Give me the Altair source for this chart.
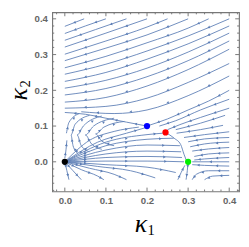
import math
import altair as alt
import pandas as pd

# Streamlines: lists of (kappa1, kappa2) points
upper_lines = [
    [(0.0, 0.379), (0.047, 0.4)],
    [(0.0, 0.359), (0.05, 0.38), (0.1, 0.4)],
    [(0.0, 0.340), (0.075, 0.37), (0.15, 0.4)],
    [(0.0, 0.321), (0.1, 0.36), (0.2, 0.4)],
    [(0.0, 0.301), (0.1, 0.338), (0.2, 0.377), (0.25, 0.4)],
    [(0.0, 0.283), (0.1, 0.318), (0.2, 0.355), (0.3, 0.4)],
    [(0.0, 0.263), (0.1, 0.295), (0.2, 0.333), (0.3, 0.374), (0.35, 0.4)],
    [(0.0, 0.245), (0.1, 0.273), (0.2, 0.31), (0.3, 0.352), (0.4, 0.4)],
    [(0.0, 0.225), (0.1, 0.25), (0.2, 0.287), (0.3, 0.33), (0.4, 0.38)],
    [(0.0, 0.206), (0.1, 0.228), (0.2, 0.262), (0.3, 0.307), (0.4, 0.36)],
    [(0.0, 0.187), (0.1, 0.205), (0.2, 0.238), (0.3, 0.283), (0.4, 0.338)],
    [(0.0, 0.167), (0.1, 0.18), (0.2, 0.212), (0.3, 0.258), (0.4, 0.315)],
    [(0.0, 0.150), (0.1, 0.155), (0.2, 0.178), (0.3, 0.222), (0.4, 0.275)],
    [(0.04, 0.14), (0.12, 0.135), (0.2, 0.145), (0.3, 0.185), (0.4, 0.24)],
    [(0.0, 0.138), (0.05, 0.133), (0.1, 0.122), (0.15, 0.111), (0.195, 0.101)],
    [(0.205, 0.102), (0.25, 0.12), (0.3, 0.145), (0.35, 0.17), (0.4, 0.2)],
]
curve_lines = [
    [(0.245, 0.082), (0.266, 0.066), (0.282, 0.048), (0.29, 0.021), (0.296, 0.003)],
]
right_lines = [
    [(0.4, 0.175), (0.33, 0.145), (0.27, 0.115), (0.23, 0.1)],
    [(0.4, 0.15), (0.33, 0.124), (0.28, 0.104), (0.25, 0.09)],
    [(0.39, 0.13), (0.33, 0.108), (0.27, 0.09)],
    [(0.385, 0.102), (0.33, 0.09), (0.272, 0.08)],
    [(0.4, 0.084), (0.34, 0.076), (0.29, 0.068)],
    [(0.4, 0.068), (0.34, 0.064), (0.3, 0.056)],
    [(0.4, 0.055), (0.34, 0.05), (0.305, 0.042)],
    [(0.4, 0.04), (0.35, 0.036), (0.31, 0.03)],
    [(0.4, 0.025), (0.35, 0.022), (0.315, 0.015)],
    [(0.4, 0.012), (0.34, 0.008), (0.315, 0.005)],
    [(0.4, 0.0), (0.31, 0.0)],
    [(0.4, -0.012), (0.34, -0.01), (0.31, -0.008)],
    [(0.4, -0.025), (0.35, -0.025), (0.32, -0.035), (0.31, -0.05)],
    [(0.4, -0.038), (0.36, -0.04), (0.34, -0.05)],
    [(0.3, 0.0), (0.298, -0.025), (0.295, -0.05)],
    [(0.275, -0.05), (0.283, -0.03), (0.292, -0.01)],
]
origin_lines = [
    [(0.0, 0.0), (0.1, 0.002), (0.2, 0.002), (0.29, 0.0)],
    [(0.0, 0.0), (0.1, 0.012), (0.2, 0.015), (0.285, 0.012)],
    [(0.0, 0.0), (0.1, 0.022), (0.2, 0.03), (0.283, 0.028)],
    [(0.0, 0.0), (0.1, 0.033), (0.2, 0.047), (0.28, 0.045)],
    [(0.0, 0.0), (0.1, 0.045), (0.2, 0.063), (0.265, 0.066)],
    [(0.0, 0.0), (0.1, 0.055), (0.2, 0.076), (0.238, 0.08)],
    [(0.0, 0.0), (0.08, 0.055), (0.15, 0.08), (0.195, 0.095)],
    [(0.0, 0.0), (0.06, 0.06), (0.12, 0.085), (0.18, 0.097)],
    [(0.0, 0.0), (0.1, -0.008), (0.2, -0.015), (0.27, -0.03)],
    [(0.0, 0.0), (0.08, -0.013), (0.16, -0.025), (0.22, -0.045)],
    [(0.0, 0.0), (0.06, -0.018), (0.12, -0.035), (0.15, -0.05)],
    [(0.0, 0.0), (0.04, -0.022), (0.08, -0.04), (0.095, -0.05)],
    [(0.0, 0.0), (0.02, -0.025), (0.04, -0.05)],
    [(0.0, 0.0), (0.005, -0.025), (0.01, -0.05)],
    [(0.0, 0.01), (0.003, 0.035), (0.005, 0.06)],
    [(0.004, 0.08), (0.01, 0.11), (0.035, 0.135)],
    [(0.03, 0.025), (0.02, 0.045), (0.015, 0.075), (0.025, 0.105), (0.06, 0.13)],
    [(0.06, 0.028), (0.04, 0.045), (0.03, 0.075), (0.045, 0.1), (0.09, 0.128)],
    [(0.09, 0.035), (0.065, 0.05), (0.05, 0.075), (0.07, 0.1), (0.12, 0.122)],
    [(0.12, 0.045), (0.09, 0.058), (0.075, 0.078), (0.095, 0.097), (0.145, 0.113)],
]

fp_x = [0.0, 0.2, 0.245, 0.3]
fp_y = [0.0, 0.1, 0.082, 0.0]
fp_color = ["#000000", "#0000ff", "#ff0000", "#00ee00"]

major_ticks = [0.0, 0.1, 0.2, 0.3, 0.4]
minor_x = [-0.02, 0.02, 0.04, 0.06, 0.08, 0.12, 0.14, 0.16, 0.18, 0.22, 0.24, 0.26, 0.28, 0.32, 0.34, 0.36, 0.38, 0.42]
minor_y = [-0.08, -0.06, -0.04, -0.02, 0.02, 0.04, 0.06, 0.08, 0.12, 0.14, 0.16, 0.18, 0.22, 0.24, 0.26, 0.28, 0.32, 0.34, 0.36, 0.38]

XDOM = [-0.0305, 0.424]
YDOM = [-0.083, 0.418]
W, H = 194, 186
PX = W / (XDOM[1] - XDOM[0])
PY = H / (YDOM[1] - YDOM[0])

# flow direction: upper lines are listed left->right but flow right->left
flows = [(upper_lines, True), (curve_lines, None), (right_lines, False), (origin_lines, False)]

rows, arrows = [], []
lid = 0
for group, rev in flows:
    for line in group:
        for i, (x, y) in enumerate(line):
            rows.append({"line": lid, "o": i, "x": x, "y": y})
        lid += 1
        if rev is None:
            continue
        pts = line[::-1] if rev else line
        for (x0, y0), (x1, y1) in zip(pts[:-1], pts[1:]):
            ang = math.degrees(math.atan2(-(y1 - y0) * PY, (x1 - x0) * PX)) % 360
            arrows.append({"x": (x0 + x1) / 2, "y": (y0 + y1) / 2, "a": ang})

df = pd.DataFrame(rows)
ar = pd.DataFrame(arrows)
fp = pd.DataFrame({"x": fp_x, "y": fp_y, "c": fp_color})

xs = alt.Scale(domain=XDOM, nice=False, zero=False)
ys = alt.Scale(domain=YDOM, nice=False, zero=False)

lab = dict(labelFont="Liberation Sans", labelFontSize=10, labelColor="#666666",
           labelFontWeight="bold", ticks=False, domain=False, grid=False, title=None)

line_col = "#5b7db5"
streams = alt.Chart(df).mark_line(color=line_col, strokeWidth=0.9, interpolate="monotone").encode(
    x=alt.X("x:Q", scale=xs, axis=alt.Axis(values=major_ticks, format=".1f", labelPadding=4, **lab)),
    y=alt.Y("y:Q", scale=ys, axis=alt.Axis(values=major_ticks, format=".1f", labelPadding=5, **lab)),
    detail="line:N",
    order="o:Q",
)

heads = alt.Chart(ar).mark_point(shape="triangle-right", filled=True, size=9, color=line_col, opacity=1).encode(
    x=alt.X("x:Q", scale=xs), y=alt.Y("y:Q", scale=ys), angle=alt.Angle("a:Q", scale=None),
)

points = alt.Chart(fp).mark_point(filled=True, size=42, opacity=1).encode(
    x=alt.X("x:Q", scale=xs), y=alt.Y("y:Q", scale=ys),
    color=alt.Color("c:N", scale=None),
)

tick_col = "#777777"
mx = pd.DataFrame({"v": major_ticks})
nx = pd.DataFrame({"v": minor_x})
ny = pd.DataFrame({"v": minor_y})

def xticks(data, ln):
    b = alt.Chart(data).mark_rule(color=tick_col, strokeWidth=1).encode(
        x=alt.X("v:Q", scale=xs), y=alt.value(H), y2=alt.value(H - ln))
    t = alt.Chart(data).mark_rule(color=tick_col, strokeWidth=1).encode(
        x=alt.X("v:Q", scale=xs), y=alt.value(0), y2=alt.value(ln))
    return b + t

def yticks(data, ln):
    l = alt.Chart(data).mark_rule(color=tick_col, strokeWidth=1).encode(
        y=alt.Y("v:Q", scale=ys), x=alt.value(0), x2=alt.value(ln))
    r = alt.Chart(data).mark_rule(color=tick_col, strokeWidth=1).encode(
        y=alt.Y("v:Q", scale=ys), x=alt.value(W), x2=alt.value(W - ln))
    return l + r

# axis titles: kappa with subscripts
tdf = pd.DataFrame({"k": ["κ"]})
x_k = alt.Chart(tdf).mark_text(font="Liberation Serif", fontStyle="italic", fontSize=27,
                               baseline="alphabetic", align="center").encode(
    text="k:N", x=alt.value(92), y=alt.value(228))
x_s = alt.Chart(pd.DataFrame({"k": ["1"]})).mark_text(font="Liberation Serif", fontSize=15,
                               baseline="alphabetic", align="left").encode(
    text="k:N", x=alt.value(99), y=alt.value(231))
y_k = alt.Chart(tdf).mark_text(font="Liberation Serif", fontStyle="italic", fontSize=27,
                               baseline="alphabetic", align="center", angle=270).encode(
    text="k:N", x=alt.value(-26), y=alt.value(85))
y_s = alt.Chart(pd.DataFrame({"k": ["2"]})).mark_text(font="Liberation Serif", fontSize=15,
                               baseline="alphabetic", align="left", angle=270).encode(
    text="k:N", x=alt.value(-23), y=alt.value(78))

chart = alt.layer(
    streams, heads, points, xticks(mx, 4), xticks(nx, 2), yticks(mx, 4), yticks(ny, 2),
    x_k, x_s, y_k, y_s
).properties(
    width=W, height=H,
    autosize=alt.AutoSizeParams(type="none"),
    padding={"left": 46, "top": 0, "right": 2, "bottom": 50},
).configure_view(stroke="#777777", strokeWidth=1.2)

chart.save("out.html", embed_options={"renderer": "svg", "actions": False})
